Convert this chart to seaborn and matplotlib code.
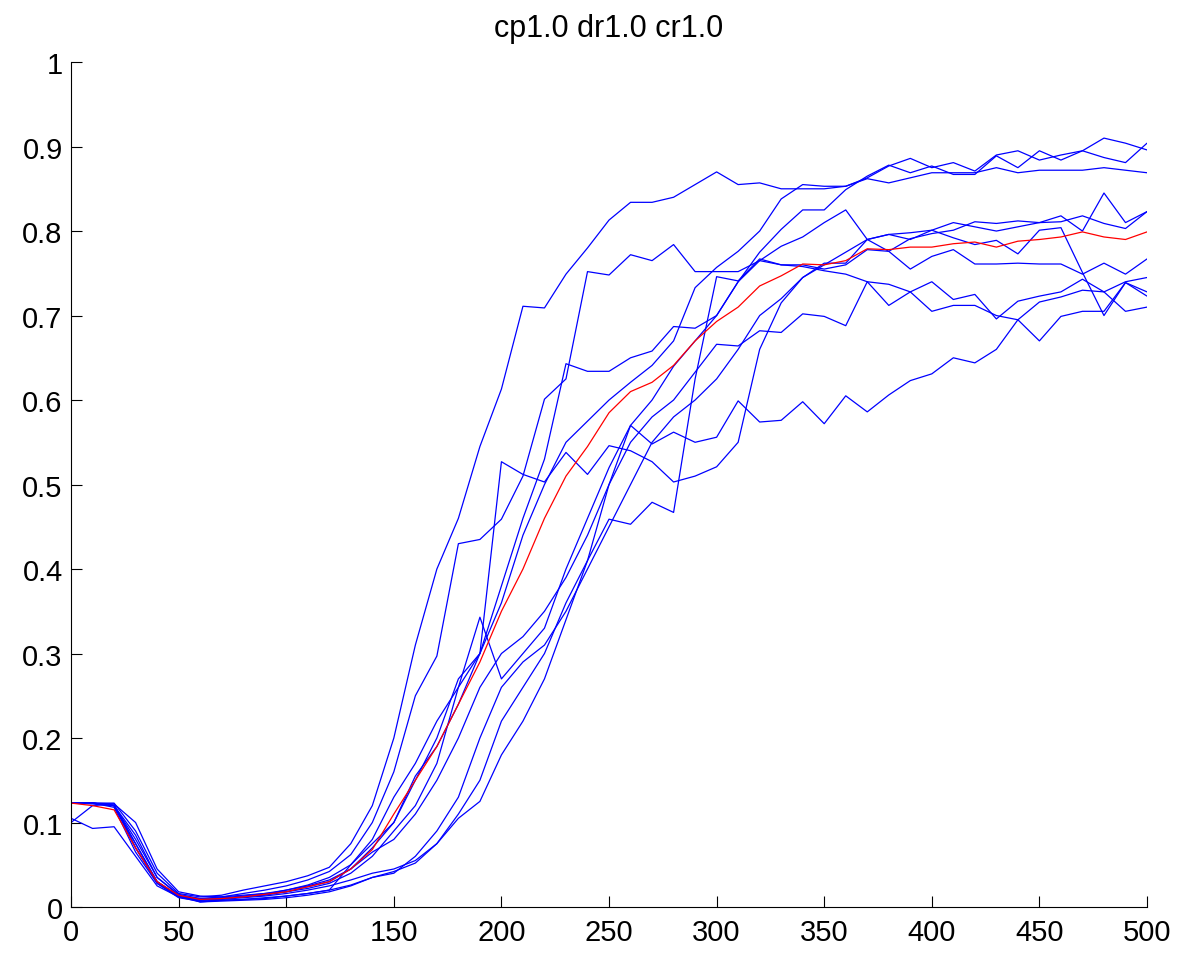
import numpy as np
import pandas as pd
import matplotlib
matplotlib.use("Agg")
import matplotlib.pyplot as plt
import seaborn as sns

# sampling steps
steps = list(range(0, 501, 10))

# individual runs (values at steps 0, 10, ..., 500)
run_a = [0.123, 0.123, 0.123, 0.09, 0.04, 0.016, 0.012, 0.014, 0.02, 0.025, 0.03, 0.037, 0.047, 0.075, 0.12,
         0.2, 0.31, 0.40, 0.46, 0.545, 0.613, 0.711, 0.709, 0.749, 0.78, 0.813, 0.834, 0.834, 0.84, 0.855,
         0.87, 0.855, 0.857, 0.85, 0.85, 0.85, 0.853, 0.862, 0.857, 0.863, 0.869, 0.869, 0.869, 0.875, 0.869,
         0.872, 0.872, 0.872, 0.875, 0.872, 0.869]
run_b = [0.123, 0.123, 0.12, 0.08, 0.035, 0.015, 0.01, 0.012, 0.016, 0.02, 0.025, 0.032, 0.042, 0.062, 0.1,
         0.16, 0.25, 0.297, 0.43, 0.435, 0.459, 0.51, 0.601, 0.625, 0.752, 0.748, 0.772, 0.765, 0.784, 0.752,
         0.752, 0.752, 0.765, 0.76, 0.758, 0.753, 0.749, 0.74, 0.737, 0.728, 0.74, 0.719, 0.725, 0.696, 0.717,
         0.723, 0.728, 0.743, 0.728, 0.705, 0.71]
run_c = [0.123, 0.122, 0.12, 0.07, 0.03, 0.013, 0.009, 0.01, 0.012, 0.014, 0.018, 0.024, 0.03, 0.045, 0.07,
         0.1, 0.15, 0.2, 0.27, 0.3, 0.527, 0.512, 0.503, 0.538, 0.512, 0.546, 0.54, 0.527, 0.503, 0.51,
         0.521, 0.55, 0.66, 0.715, 0.745, 0.762, 0.762, 0.79, 0.796, 0.79, 0.801, 0.81, 0.805, 0.80, 0.805,
         0.81, 0.818, 0.80, 0.845, 0.81, 0.823]
run_d = [0.105, 0.093, 0.095, 0.06, 0.025, 0.012, 0.008, 0.009, 0.011, 0.013, 0.016, 0.02, 0.025, 0.032, 0.04,
         0.045, 0.055, 0.075, 0.105, 0.125, 0.18, 0.22, 0.27, 0.34, 0.41, 0.5, 0.57, 0.548, 0.562, 0.55,
         0.556, 0.599, 0.574, 0.576, 0.598, 0.572, 0.605, 0.586, 0.606, 0.623, 0.631, 0.65, 0.644, 0.66, 0.695,
         0.716, 0.722, 0.73, 0.728, 0.74, 0.745]
run_e = [0.123, 0.123, 0.12, 0.075, 0.03, 0.012, 0.006, 0.008, 0.009, 0.011, 0.013, 0.016, 0.02, 0.026, 0.035,
         0.042, 0.052, 0.075, 0.11, 0.15, 0.22, 0.26, 0.3, 0.36, 0.41, 0.459, 0.453, 0.479, 0.467, 0.625,
         0.746, 0.741, 0.767, 0.76, 0.76, 0.755, 0.76, 0.778, 0.776, 0.755, 0.77, 0.778, 0.761, 0.761, 0.762,
         0.761, 0.761, 0.749, 0.762, 0.749, 0.767]
run_f = [0.123, 0.123, 0.118, 0.065, 0.028, 0.011, 0.007, 0.008, 0.009, 0.01, 0.013, 0.016, 0.02, 0.05, 0.08,
         0.13, 0.17, 0.22, 0.26, 0.3, 0.36, 0.44, 0.5, 0.55, 0.575, 0.6, 0.621, 0.641, 0.67, 0.733,
         0.757, 0.776, 0.80, 0.838, 0.855, 0.853, 0.853, 0.863, 0.877, 0.886, 0.875, 0.881, 0.871, 0.89, 0.895,
         0.884, 0.89, 0.895, 0.91, 0.904, 0.896]
run_g = [0.1, 0.12, 0.122, 0.07, 0.028, 0.012, 0.008, 0.01, 0.012, 0.015, 0.02, 0.026, 0.035, 0.05, 0.075,
         0.1, 0.155, 0.19, 0.24, 0.3, 0.38, 0.46, 0.53, 0.643, 0.634, 0.634, 0.65, 0.658, 0.687, 0.685,
         0.70, 0.74, 0.765, 0.782, 0.793, 0.81, 0.825, 0.79, 0.796, 0.798, 0.801, 0.792, 0.784, 0.789, 0.773,
         0.801, 0.804, 0.751, 0.70, 0.739, 0.728]
run_h = [0.123, 0.123, 0.122, 0.1, 0.045, 0.018, 0.013, 0.012, 0.014, 0.016, 0.018, 0.022, 0.028, 0.04, 0.06,
         0.09, 0.12, 0.17, 0.26, 0.343, 0.27, 0.3, 0.33, 0.4, 0.46, 0.52, 0.57, 0.6, 0.64, 0.67,
         0.70, 0.74, 0.775, 0.802, 0.825, 0.825, 0.849, 0.865, 0.878, 0.869, 0.877, 0.867, 0.867, 0.889, 0.875,
         0.895, 0.884, 0.895, 0.887, 0.881, 0.904]
run_i = [0.123, 0.123, 0.12, 0.075, 0.03, 0.013, 0.01, 0.011, 0.013, 0.016, 0.02, 0.025, 0.032, 0.045, 0.065,
         0.08, 0.11, 0.15, 0.2, 0.26, 0.3, 0.32, 0.35, 0.39, 0.44, 0.5, 0.55, 0.58, 0.6, 0.633,
         0.666, 0.664, 0.682, 0.68, 0.702, 0.699, 0.688, 0.74, 0.712, 0.728, 0.705, 0.712, 0.712, 0.70, 0.695,
         0.67, 0.699, 0.705, 0.705, 0.739, 0.723]
run_j = [0.123, 0.123, 0.12, 0.085, 0.035, 0.014, 0.006, 0.007, 0.008, 0.009, 0.011, 0.014, 0.018, 0.025, 0.035,
         0.04, 0.06, 0.09, 0.13, 0.2, 0.26, 0.29, 0.31, 0.35, 0.4, 0.45, 0.5, 0.55, 0.58, 0.6,
         0.625, 0.66, 0.70, 0.72, 0.745, 0.76, 0.775, 0.79, 0.776, 0.791, 0.797, 0.801, 0.811, 0.809, 0.812,
         0.81, 0.811, 0.818, 0.809, 0.803, 0.823]

# average over runs
mean_run = [0.123, 0.12, 0.115, 0.07, 0.03, 0.014, 0.009, 0.01, 0.012, 0.015, 0.018, 0.024, 0.03, 0.045, 0.068,
            0.11, 0.15, 0.19, 0.24, 0.29, 0.35, 0.4, 0.46, 0.51, 0.545, 0.585, 0.61, 0.621, 0.641, 0.67,
            0.693, 0.71, 0.735, 0.747, 0.761, 0.76, 0.765, 0.779, 0.778, 0.781, 0.781, 0.785, 0.787, 0.781, 0.788,
            0.79, 0.793, 0.799, 0.793, 0.79, 0.799]

runs = {"a": run_a, "b": run_b, "c": run_c, "d": run_d, "e": run_e,
        "f": run_f, "g": run_g, "h": run_h, "i": run_i, "j": run_j}

x_ticks = [0, 50, 100, 150, 200, 250, 300, 350, 400, 450, 500]
y_ticks = [0, 0.1, 0.2, 0.3, 0.4, 0.5, 0.6, 0.7, 0.8, 0.9, 1]
y_tick_labels = ["0", "0.1", "0.2", "0.3", "0.4", "0.5", "0.6", "0.7", "0.8", "0.9", "1"]

for vals in list(runs.values()) + [mean_run]:
    assert len(vals) == len(steps)

long = pd.DataFrame(
    [(name, s, v) for name, vals in runs.items() for s, v in zip(steps, vals)],
    columns=["run", "step", "value"],
)

sns.set_style("white")
plt.rcParams["font.family"] = ["Liberation Sans", "DejaVu Sans"]
plt.rcParams["text.color"] = "black"

fig = plt.figure(figsize=(11.82, 9.54), dpi=100)
ax = fig.add_axes([0.0601, 0.0482, 0.9103, 0.8857])

sns.lineplot(data=long, x="step", y="value", units="run", estimator=None,
             color=(0, 0, 1), linewidth=0.9, ax=ax, legend=False)
sns.lineplot(x=steps, y=mean_run, color=(1, 0, 0), linewidth=0.9, ax=ax)

ax.set_xlim(0, 500)
ax.set_ylim(0, 1)
ax.set_xticks(x_ticks)
ax.set_xticklabels([str(t) for t in x_ticks])
ax.set_yticks(y_ticks)
ax.set_yticklabels(y_tick_labels)
ax.set_xlabel("")
ax.set_ylabel("")
ax.set_title("cp1.0 dr1.0 cr1.0", fontsize=22, pad=19, color="black")

for side in ("top", "right"):
    ax.spines[side].set_visible(False)
for side in ("left", "bottom"):
    ax.spines[side].set_color("black")
    ax.spines[side].set_linewidth(0.8)
ax.tick_params(axis="both", which="major", direction="in", length=8, width=0.8,
               labelsize=21, colors="black", bottom=True, left=True, pad=6)
ax.tick_params(axis="x", pad=8)

fig.savefig("out.png", dpi=100, facecolor="white")
